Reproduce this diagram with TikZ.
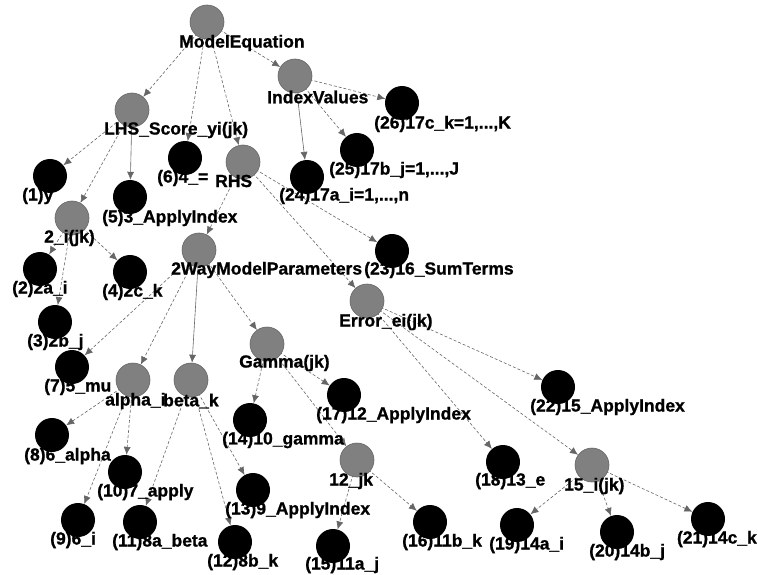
\documentclass[tikz,border=0pt]{standalone}
\usepackage{fontspec}
\setmainfont{Liberation Sans}
\newfontfamily\lblfont[FakeBold=1]{Liberation Sans Bold}
\usetikzlibrary{arrows.meta}
\pgfdeclarelayer{edges}
\pgfdeclarelayer{labels}
\pgfsetlayers{edges,main,labels}
% #1 style, #2 name, #3 x, #4 y, #5 label drop, #6 label text
\newcommand\treenode[6]{%
  \node[#1] (#2) at (#3,#4) {};
  \begin{pgfonlayer}{labels}
    \node[lab] (#2-l) at (#3-28,#4+#5) {#6};
  \end{pgfonlayer}}

\begin{document}
\begin{tikzpicture}[x=1pt,y=-1pt,
  inner/.style={circle,minimum size=34pt,inner sep=0pt,fill=black!50,draw=black!60,line width=0.6pt},
  leaf/.style={circle,minimum size=34pt,inner sep=0pt,fill=black},
  lab/.style={anchor=west,inner sep=0pt,font=\fontsize{17.5}{17.5}\selectfont\lblfont},
  link/.style={draw=black!60,line width=0.6pt,densely dashed,-{Latex[length=8pt,width=7pt]}},
  solidlink/.style={link,solid}]
\useasboundingbox (0,0) rectangle (758,575);

% inner nodes are grey, leaves are black
\treenode{inner}{me}{207}{22}{21}{ModelEquation}
\treenode{inner}{iv}{295}{76}{21}{IndexValues}
\treenode{leaf}{v26}{402}{103}{21}{(26)17c\_k=1,...,K}
\treenode{leaf}{v25}{357}{150}{20}{(25)17b\_j=1,...,J}
\treenode{leaf}{v24}{307}{177}{19}{(24)17a\_i=1,...,n}
\treenode{inner}{lhs}{132}{110}{20}{LHS\_Score\_yi(jk)}
\treenode{leaf}{v1}{50}{176}{20}{(1)y}
\treenode{leaf}{v5}{130}{197}{21}{(5)3\_ApplyIndex}
\treenode{leaf}{v6}{185}{158}{20}{(6)4\_=}
\treenode{inner}{rhs}{243}{162}{19}{RHS}
\treenode{inner}{tw}{72}{218}{20}{2\_i(jk)}
\treenode{leaf}{v2}{40}{269}{20}{(2)2a\_i}
\treenode{leaf}{v4}{130}{272}{20}{(4)2c\_k}
\treenode{leaf}{v3}{55}{322}{20}{(3)2b\_j}
\treenode{inner}{wmp}{199}{250}{20}{2WayModelParameters}
\treenode{leaf}{v23}{392}{251}{19}{(23)16\_SumTerms}
\treenode{inner}{err}{367}{301}{21}{Error\_ei(jk)}
\treenode{leaf}{v7}{72}{367}{20}{(7)5\_mu}
\treenode{inner}{al}{133}{380}{21}{alpha\_i}
\treenode{inner}{be}{191}{380}{21}{beta\_k}
\treenode{inner}{ga}{267}{344}{19}{Gamma(jk)}
\treenode{leaf}{v17}{344}{395}{20}{(17)12\_ApplyIndex}
\treenode{leaf}{v22}{558}{387}{20}{(22)15\_ApplyIndex}
\treenode{leaf}{v14}{250}{420}{20}{(14)10\_gamma}
\treenode{leaf}{v8}{52}{435}{21}{(8)6\_alpha}
\treenode{leaf}{v10}{125}{472}{20}{(10)7\_apply}
\treenode{leaf}{v13}{253}{490}{20}{(13)9\_ApplyIndex}
\treenode{inner}{jk}{357}{460}{21}{12\_jk}
\treenode{leaf}{v18}{503}{462}{19}{(18)13\_e}
\treenode{inner}{fi}{592}{465}{21}{15\_i(jk)}
\treenode{leaf}{v9}{78}{520}{20}{(9)6\_i}
\treenode{leaf}{v11}{140}{522}{20}{(11)8a\_beta}
\treenode{leaf}{v12}{235}{542}{20}{(12)8b\_k}
\treenode{leaf}{v15}{333}{546}{19}{(15)11a\_j}
\treenode{leaf}{v16}{430}{522}{20}{(16)11b\_k}
\treenode{leaf}{v19}{517}{525}{20}{(19)14a\_i}
\treenode{leaf}{v20}{617}{532}{20}{(20)14b\_j}
\node[leaf] (v21) at (708,519) {};
\begin{pgfonlayer}{labels}
  \node[lab,anchor=east] (v21-l) at (757,539) {(21)14c\_k};
\end{pgfonlayer}

\begin{pgfonlayer}{edges}
  \draw[link] (me.center) -- (lhs);
  \draw[link] (me.center) -- (v6);
  \draw[link] (me.center) -- (rhs);
  \draw[link] (me.center) -- (iv);
  \draw[link] (iv.center) -- (v26);
  \draw[link] (iv.center) -- (v25);
  \draw[solidlink] (iv.center) -- (v24);
  \draw[link] (lhs.center) -- (v1);
  \draw[solidlink] (lhs.center) -- (v5);
  \draw[link] (lhs.center) -- (tw);
  \draw[link] (tw.center) -- (v2);
  \draw[link] (tw.center) -- (v4);
  \draw[link] (tw.center) -- (v3);
  \draw[link] (rhs.center) -- (wmp);
  \draw[link] (rhs.center) -- (v23);
  \draw[link] (rhs.center) -- (err);
  \draw[link] (wmp.center) -- (v7);
  \draw[link] (wmp.center) -- (al);
  \draw[solidlink] (wmp.center) -- (be);
  \draw[link] (wmp.center) -- (ga);
  \draw[link] (al.center) -- (v8);
  \draw[link] (al.center) -- (v10);
  \draw[link] (al.center) -- (v9);
  \draw[link] (be.center) -- (v11);
  \draw[link] (be.center) -- (v12);
  \draw[link] (be.center) -- (v13);
  \draw[link] (ga.center) -- (v14);
  \draw[link] (ga.center) -- (v17);
  \draw[link] (ga.center) -- (jk);
  \draw[link] (jk.center) -- (v15);
  \draw[link] (jk.center) -- (v16);
  \draw[link] (err.center) -- (v18);
  \draw[link] (err.center) -- (fi);
  \draw[link] (err.center) -- (v22);
  \draw[link] (fi.center) -- (v19);
  \draw[link] (fi.center) -- (v20);
  \draw[link] (fi.center) -- (v21);
\end{pgfonlayer}
\end{tikzpicture}
\end{document}
